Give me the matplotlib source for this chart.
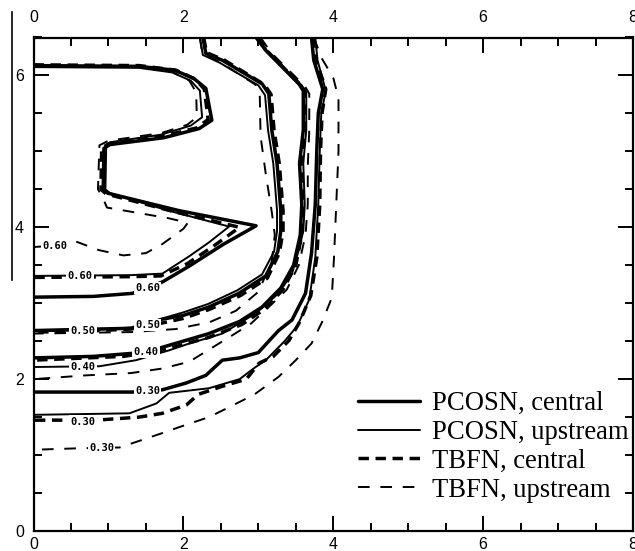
"""
Iso-lines of the scalar field for the two schemes (PCOSN, TBFN), each run
with central and upstream differencing. Levels 0.30 - 0.60.
Output: out.png
"""

import matplotlib.pyplot as plt
from matplotlib.lines import Line2D
from matplotlib.ticker import MultipleLocator

# ---- contour polylines, (x, y) in domain units --------------------------
# level 0.60 (the folded inner contour)
pcosn_central_060 = [(0, 6.13), (1.41, 6.12), (1.88, 6.07), (2.14, 5.96), (2.30, 5.83),
                     (2.38, 5.41), (2.21, 5.30), (1.74, 5.18), (1.02, 5.09), (0.94, 5.04),
                     (0.93, 4.49), (0.99, 4.45), (1.94, 4.22), (2.97, 4.02), (2.54, 3.78),
                     (2.08, 3.49), (1.72, 3.28), (1.32, 3.13), (0.80, 3.09), (0, 3.08)]
pcosn_upstream_060 = [(0, 6.11), (1.41, 6.10), (1.85, 6.04), (2.10, 5.93), (2.22, 5.80),
                      (2.25, 5.45), (2.10, 5.34), (1.70, 5.22), (1.02, 5.12), (0.97, 5.07),
                      (0.96, 4.50), (1.02, 4.45), (1.80, 4.22), (2.61, 4.01), (2.34, 3.80),
                      (2.08, 3.62), (1.72, 3.39), (1.30, 3.37), (0, 3.36)]
tbfn_central_060 = [(0, 6.14), (1.41, 6.13), (1.90, 6.07), (2.16, 5.95), (2.28, 5.82),
                    (2.33, 5.42), (2.18, 5.31), (1.72, 5.20), (1.00, 5.10), (0.91, 5.04),
                    (0.90, 4.50), (0.97, 4.44), (1.90, 4.20), (2.75, 4.00), (2.40, 3.75),
                    (2.05, 3.52), (1.70, 3.36), (1.30, 3.35), (0, 3.34)]
tbfn_upstream_060 = [(0, 6.12), (1.41, 6.11), (1.85, 6.05), (2.08, 5.93), (2.17, 5.78),
                     (2.18, 5.45), (2.05, 5.35), (1.70, 5.24), (1.00, 5.14), (0.88, 5.08),
                     (0.86, 4.50), (0.92, 4.40), (0.98, 4.26), (1.45, 4.18), (1.80, 4.12),
                     (2.06, 4.06), (2.00, 3.98), (1.72, 3.78), (1.50, 3.66), (1.20, 3.63),
                     (0.87, 3.70), (0.52, 3.83), (0.30, 3.76), (0, 3.74)]

# level 0.50
pcosn_central_050 = [(2.26, 6.5), (2.30, 6.29), (2.52, 6.20), (3.05, 5.89), (3.14, 5.76),
                     (3.18, 5.28), (3.25, 4.84), (3.30, 4.22), (3.30, 3.95), (3.26, 3.68),
                     (3.10, 3.36), (2.74, 3.13), (2.34, 2.95), (2.00, 2.84), (1.72, 2.79),
                     (1.52, 2.71), (1.32, 2.67), (0.85, 2.66), (0, 2.64)]
pcosn_upstream_050 = [(2.22, 6.5), (2.26, 6.27), (2.48, 6.17), (3.00, 5.87), (3.09, 5.74),
                      (3.13, 5.28), (3.20, 4.84), (3.25, 4.22), (3.25, 3.95), (3.21, 3.68),
                      (3.05, 3.38), (2.72, 3.17), (2.33, 2.99), (2.00, 2.88), (1.72, 2.80),
                      (1.30, 2.68), (0.80, 2.65), (0, 2.63)]
tbfn_central_050 = [(2.27, 6.5), (2.31, 6.30), (2.55, 6.20), (3.08, 5.88), (3.17, 5.75),
                    (3.21, 5.28), (3.28, 4.84), (3.33, 4.22), (3.33, 3.95), (3.28, 3.66),
                    (3.12, 3.33), (2.76, 3.10), (2.35, 2.92), (2.00, 2.80), (1.72, 2.74),
                    (1.30, 2.66), (0.66, 2.63), (0, 2.62)]
tbfn_upstream_050 = [(2.22, 6.5), (2.25, 6.30), (2.48, 6.18), (2.96, 5.88), (3.02, 5.72),
                     (3.03, 5.20), (3.10, 4.70), (3.18, 4.20), (3.22, 3.90), (3.18, 3.55),
                     (3.00, 3.15), (2.70, 2.90), (2.35, 2.75), (1.90, 2.66), (1.30, 2.62),
                     (0, 2.60)]

# level 0.40
pcosn_central_040 = [(2.97, 6.5), (3.10, 6.33), (3.54, 5.89), (3.60, 5.80), (3.60, 5.28),
                     (3.55, 4.84), (3.58, 4.30), (3.56, 3.90), (3.47, 3.50), (3.30, 3.20),
                     (3.05, 2.95), (2.75, 2.76), (2.34, 2.60), (1.72, 2.42), (1.50, 2.36),
                     (1.32, 2.34), (0.80, 2.30), (0, 2.28)]
pcosn_upstream_040 = [(3.00, 6.5), (3.13, 6.30), (3.58, 5.87), (3.64, 5.78), (3.64, 5.28),
                      (3.60, 4.84), (3.62, 4.30), (3.60, 3.95), (3.54, 3.70), (3.45, 3.39),
                      (3.27, 3.13), (2.97, 2.87), (2.52, 2.60), (2.08, 2.47), (1.81, 2.38),
                      (1.37, 2.25), (0.88, 2.17), (0, 2.16)]
tbfn_central_040 = [(2.99, 6.5), (3.12, 6.32), (3.56, 5.88), (3.62, 5.79), (3.62, 5.28),
                    (3.57, 4.84), (3.60, 4.30), (3.58, 3.90), (3.50, 3.50), (3.33, 3.18),
                    (3.08, 2.92), (2.78, 2.72), (2.34, 2.55), (1.72, 2.38), (1.20, 2.30),
                    (0, 2.25)]
tbfn_upstream_040 = [(3.03, 6.5), (3.17, 6.30), (3.62, 5.86), (3.68, 5.76), (3.68, 5.28),
                     (3.66, 4.80), (3.66, 4.30), (3.63, 3.90), (3.54, 3.50), (3.38, 3.18),
                     (3.14, 2.95), (2.90, 2.73), (2.64, 2.57), (2.36, 2.40), (2.08, 2.23),
                     (1.72, 2.14), (1.30, 2.08), (0.70, 2.05), (0, 2.00)]

# level 0.30
pcosn_central_030 = [(3.71, 6.5), (3.74, 6.20), (3.86, 5.82), (3.80, 5.50), (3.78, 5.00),
                     (3.76, 4.30), (3.71, 3.66), (3.63, 3.13), (3.45, 2.78), (3.27, 2.64),
                     (3.00, 2.35), (2.75, 2.28), (2.52, 2.25), (2.30, 2.05), (2.04, 1.95),
                     (1.72, 1.86), (1.52, 1.84), (1.32, 1.83), (0, 1.83)]
pcosn_upstream_030 = [(3.76, 6.5), (3.79, 6.20), (3.90, 5.80), (3.84, 5.50), (3.82, 5.00),
                      (3.80, 4.30), (3.76, 3.60), (3.68, 3.05), (3.52, 2.70), (3.35, 2.50),
                      (3.10, 2.25), (2.95, 2.15), (2.75, 2.00), (2.34, 1.88), (1.81, 1.82),
                      (1.64, 1.68), (1.28, 1.55), (0, 1.53)]
tbfn_central_030 = [(3.73, 6.5), (3.77, 6.20), (3.90, 5.82), (3.85, 5.50), (3.83, 5.00),
                    (3.82, 4.30), (3.78, 3.60), (3.70, 3.10), (3.55, 2.75), (3.41, 2.51),
                    (3.20, 2.30), (3.01, 2.21), (2.84, 2.00), (2.50, 1.90), (2.20, 1.80),
                    (2.04, 1.66), (1.72, 1.55), (1.41, 1.50), (0.84, 1.46), (0, 1.46)]
tbfn_upstream_030 = [(3.74, 6.5), (3.85, 6.22), (4.00, 5.97), (4.07, 5.70), (4.07, 5.00),
                     (4.04, 4.30), (4.01, 3.60), (3.98, 3.07), (3.85, 2.75), (3.71, 2.47),
                     (3.50, 2.25), (3.27, 2.03), (2.95, 1.80), (2.61, 1.63), (2.34, 1.50),
                     (1.95, 1.37), (1.72, 1.29), (1.15, 1.10), (0.62, 1.09), (0, 1.07)]

# in-line level labels
label_text = ["0.60", "0.60", "0.60", "0.50", "0.50", "0.40", "0.40", "0.30", "0.30", "0.30"]
label_x = [0.29, 0.62, 1.52, 0.66, 1.52, 1.50, 0.66, 1.52, 0.66, 0.91]
label_y = [3.75, 3.36, 3.20, 2.63, 2.71, 2.36, 2.16, 1.84, 1.44, 1.09]

# ---- line styles per scheme ---------------------------------------------
styles = {
    "PCOSN, central": dict(color="black", lw=2.5, ls="-"),
    "PCOSN, upstream": dict(color="black", lw=1.4, ls="-"),
    "TBFN, central": dict(color="black", lw=2.5, ls=(0, (3.0, 1.9))),
    "TBFN, upstream": dict(color="black", lw=1.4, ls=(0, (6.0, 5.5))),
}
curves = {
    "PCOSN, central": [pcosn_central_060, pcosn_central_050, pcosn_central_040, pcosn_central_030],
    "PCOSN, upstream": [pcosn_upstream_060, pcosn_upstream_050, pcosn_upstream_040, pcosn_upstream_030],
    "TBFN, central": [tbfn_central_060, tbfn_central_050, tbfn_central_040, tbfn_central_030],
    "TBFN, upstream": [tbfn_upstream_060, tbfn_upstream_050, tbfn_upstream_040, tbfn_upstream_030],
}

fig = plt.figure(figsize=(6.35, 5.51), dpi=100)
W, H = 635, 551
ax = fig.add_axes([33.5 / W, 20 / H, (633 - 33.5) / W, (531 - 37.5) / H])

for name, style in styles.items():
    for i, pts in enumerate(curves[name]):
        xs, ys = zip(*pts)
        ax.plot(xs, ys, solid_capstyle="round", solid_joinstyle="round",
                dash_capstyle="butt", label=name if i == 0 else None, **style)

for txt, x, y in zip(label_text, label_x, label_y):
    ax.text(x, y, txt, ha="center", va="center", fontsize=7.5, fontweight="bold",
            family="DejaVu Sans Mono", zorder=5,
            bbox=dict(boxstyle="square,pad=0.12", fc="white", ec="none"))

ax.set_xlim(0, 8)
ax.set_ylim(0, 6.5)
ax.xaxis.set_major_locator(MultipleLocator(2))
ax.xaxis.set_minor_locator(MultipleLocator(0.5))
ax.yaxis.set_major_locator(MultipleLocator(2))
ax.yaxis.set_minor_locator(MultipleLocator(0.5))
ax.tick_params(which="both", direction="in", top=True, right=True, width=1.4, colors="black")
ax.tick_params(which="major", length=11)
ax.tick_params(which="minor", length=5.5)
ax.tick_params(axis="x", labelsize=11.5, pad=4)
ax.tick_params(axis="y", labelsize=11.5, pad=7)
for lab in ax.get_xticklabels() + ax.get_yticklabels():
    lab.set_family("Liberation Sans")
for sp in ax.spines.values():
    sp.set_linewidth(1.6)

# same scale repeated along the top edge
top = ax.secondary_xaxis("top")
top.set_xticks([0, 2, 4, 6, 8])
top.tick_params(length=0, labelsize=11.5, pad=9)
top.spines["top"].set_visible(False)
for lab in top.get_xticklabels():
    lab.set_family("Liberation Sans")

leg = ax.legend(loc="upper left", bbox_to_anchor=(0.541, 0.283), frameon=False,
                prop=dict(family="Liberation Serif", size=19.2), handlelength=2.32,
                handletextpad=0.45, labelspacing=0.14, borderpad=0, borderaxespad=0)

# thin rule along the left margin
fig.add_artist(Line2D([12 / W, 12 / W], [1 - 12 / H, 1 - 280 / H], color="black",
                      lw=1.2, transform=fig.transFigure))

fig.savefig("out.png", dpi=100)
